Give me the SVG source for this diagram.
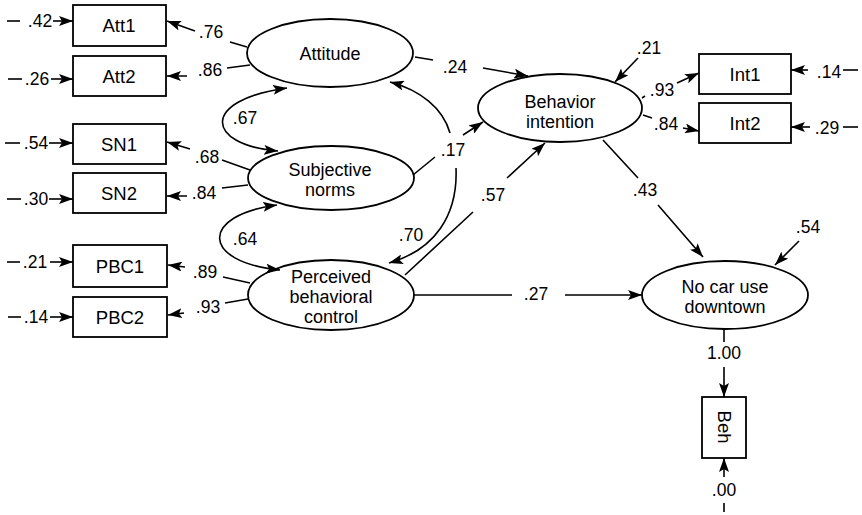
<svg xmlns="http://www.w3.org/2000/svg" width="862" height="515" viewBox="0 0 862 515">
<style>
.node{fill:#fff;stroke:#000;stroke-width:1.8}
.nt{font-family:"Liberation Sans",Arial,sans-serif;font-size:18px;fill:#000;text-anchor:middle}
.bt{font-family:"Liberation Sans",Arial,sans-serif;font-size:18.5px;fill:#000;text-anchor:middle}
.lb{font-family:"Liberation Sans",Arial,sans-serif;font-size:17.5px;fill:#000;text-anchor:middle}
.ln{fill:none;stroke:#000;stroke-width:1.6}
.ar{fill:none;stroke:#000;stroke-width:1.6;marker-end:url(#ah)}
.ar2{fill:none;stroke:#000;stroke-width:1.6;marker-start:url(#ah);marker-end:url(#ah)}
</style>
<defs>
<marker id="ah" viewBox="0 0 14 10" refX="14" refY="5" markerWidth="14" markerHeight="10" markerUnits="userSpaceOnUse" orient="auto-start-reverse">
<path d="M0,0 L14,5 L0,10 L3,5 z" fill="#000"/>
</marker>
</defs>
<rect width="862" height="515" fill="#fff"/>

<g id="Att1"><rect class="node" x="73" y="5" width="93" height="41"/><text class="bt" x="119" y="32">Att1</text></g>
<g id="Att2"><rect class="node" x="73" y="56" width="93" height="40"/><text class="bt" x="119" y="82.5">Att2</text></g>
<g id="SN1"><rect class="node" x="73" y="124" width="93" height="40"/><text class="bt" x="119" y="150.5">SN1</text></g>
<g id="SN2"><rect class="node" x="73" y="173" width="93" height="40"/><text class="bt" x="119" y="199.5">SN2</text></g>
<g id="PBC1"><rect class="node" x="73" y="245" width="94" height="42"/><text class="bt" x="120" y="272.5">PBC1</text></g>
<g id="PBC2"><rect class="node" x="73" y="297" width="94" height="40"/><text class="bt" x="120" y="323.5">PBC2</text></g>
<g id="Int1"><rect class="node" x="699" y="54" width="92" height="40"/><text class="bt" x="745" y="80.5">Int1</text></g>
<g id="Int2"><rect class="node" x="699" y="103" width="92" height="40"/><text class="bt" x="745" y="129.5">Int2</text></g>
<g id="Beh"><rect class="node" x="702" y="397" width="44" height="61"/><text class="bt" transform="translate(724,427) rotate(90)" x="0" y="6.5">Beh</text></g>

<g id="Attitude"><ellipse class="node" cx="330" cy="53" rx="83" ry="34"/><text class="nt" x="330" y="59.5">Attitude</text></g>
<g id="SubjectiveNorms"><ellipse class="node" cx="331" cy="178" rx="83" ry="32"/><text class="nt" x="330" y="176">Subjective</text><text class="nt" x="330" y="196">norms</text></g>
<g id="PBC"><ellipse class="node" cx="331" cy="295" rx="83" ry="35"/><text class="nt" x="331" y="282.5">Perceived</text><text class="nt" x="331" y="302.5">behavioral</text><text class="nt" x="331" y="322.5">control</text></g>
<g id="BehaviorIntention"><ellipse class="node" cx="560" cy="108" rx="82" ry="34"/><text class="nt" x="560" y="108">Behavior</text><text class="nt" x="560" y="128">intention</text></g>
<g id="NoCar"><ellipse class="node" cx="725" cy="295" rx="83" ry="34"/><text class="nt" x="725" y="292.5">No car use</text><text class="nt" x="725" y="312.5">downtown</text></g>

<g id="connectors">
<!-- left error terms -->
<path class="ln" d="M7,21 L20,21"/><path class="ar" d="M53,21 L73,21"/><text class="lb" x="40" y="27">.42</text>
<path class="ln" d="M8,79 L22,79"/><path class="ar" d="M51,79 L73,79"/><text class="lb" x="37" y="85">.26</text>
<path class="ln" d="M5,143 L20,143"/><path class="ar" d="M49,143 L73,143"/><text class="lb" x="36" y="149">.54</text>
<path class="ln" d="M7,199 L21,199"/><path class="ar" d="M49,199 L73,199"/><text class="lb" x="36" y="205">.30</text>
<path class="ln" d="M7,262 L20,262"/><path class="ar" d="M50,262 L73,262"/><text class="lb" x="35" y="268">.21</text>
<path class="ln" d="M8,317 L21,317"/><path class="ar" d="M50,317 L73,317"/><text class="lb" x="36" y="323">.14</text>

<!-- loadings left -->
<path class="ar" d="M247,47 L230,42 M195,31 L167,21"/><text class="lb" x="211" y="38">.76</text>
<path class="ar" d="M250,65 L227,68 M187,76 L167,76"/><text class="lb" x="210" y="76">.86</text>
<path class="ar" d="M250,170 L222,160 M190,149 L167,142"/><text class="lb" x="207" y="163">.68</text>
<path class="ar" d="M248,185 L222,188 M187,196 L167,196"/><text class="lb" x="204" y="199">.84</text>
<path class="ar" d="M250,283 L223,277 M185,267 L168,265"/><text class="lb" x="205" y="278">.89</text>
<path class="ar" d="M248,299 L225,303 M184,313 L168,315"/><text class="lb" x="208" y="313">.93</text>

<!-- correlations -->
<path class="ar2" d="M287,88 C200,100 205,145 278,151"/><text class="lb" x="245" y="124">.67</text>
<path class="ar2" d="M277,205 C200,215 200,262 280,270"/><text class="lb" x="245" y="245">.64</text>
<path class="ar" d="M450,133 C443,108 420,90 390,82"/>
<path class="ar" d="M456,168 C458,215 435,250 389,263"/><text class="lb" x="411" y="241">.70</text>

<!-- structural paths -->
<path class="ar" d="M415,57 L433,60 M483,68 L528,76"/><text class="lb" x="455" y="73">.24</text>
<path class="ar" d="M413,175 L435,157 M463,135 L483,122"/><text class="lb" x="453" y="156">.17</text>
<path class="ar" d="M405,275 L473,212 M507,178 L545,143"/><text class="lb" x="493" y="201">.57</text>
<path class="ar" d="M603,140 L638,178 M658,205 L703,257"/><text class="lb" x="645" y="196">.43</text>
<path class="ar" d="M414,295 L512,295 M565,295 L642,295"/><text class="lb" x="536" y="300">.27</text>
<path class="ar" d="M724,329 L724,342 M724,367 L724,397"/><text class="lb" x="724" y="359">1.00</text>
<path class="ln" d="M724,503 L724,512"/><path class="ar" d="M724,477 L724,458"/><text class="lb" x="724" y="496">.00</text>
<path class="ar" d="M799,241 L775,265"/><text class="lb" x="808" y="233">.54</text>
<path class="ar" d="M638,58 L615,82"/><text class="lb" x="649" y="54">.21</text>

<!-- intention indicators -->
<path class="ar" d="M642,98 L645,96 M677,83 L699,73"/><text class="lb" x="662" y="96">.93</text>
<path class="ar" d="M643,115 L652,118 M683,128 L699,131"/><text class="lb" x="666" y="130">.84</text>
<path class="ar" d="M808,70 L791,70"/><path class="ln" d="M843,70 L858,70"/><text class="lb" x="829" y="78">.14</text>
<path class="ar" d="M810,127 L791,127"/><path class="ln" d="M843,127 L858,127"/><text class="lb" x="827" y="134">.29</text>
</g>
</svg>
